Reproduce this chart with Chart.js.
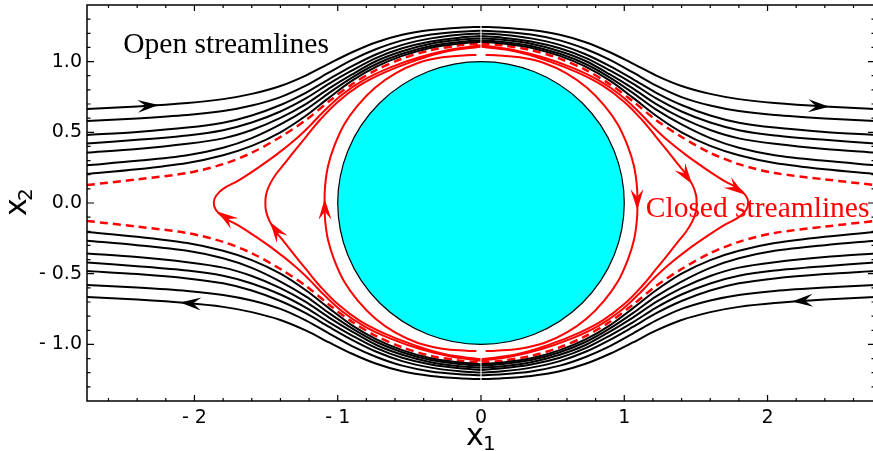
<!DOCTYPE html>
<html>
<head>
<meta charset="utf-8">
<script src="https://cdn.jsdelivr.net/npm/chart.js@4.4.0/dist/chart.umd.min.js"></script>
<style>
  html, body { margin: 0; padding: 0; background: #fff; overflow: hidden; }
  #wrap { width: 873px; height: 451px; overflow: hidden; }
</style>
</head>
<body>
<div id="wrap"><canvas id="flowChart" width="876" height="451"></canvas></div>
<script>
// open streamlines, upper-left half (x from the left edge to the x2 axis)
const xs = [-2.75, -2.4, -2.05, -1.8, -1.6, -1.4, -1.22, -1.06, -0.9, -0.73, -0.55, -0.35, -0.15, -0.004];
const open1 = [0.665, 0.6825, 0.707, 0.7345, 0.7715, 0.8275, 0.903, 0.986, 1.066, 1.137, 1.19, 1.223, 1.240, 1.245];
const open2 = [0.580, 0.598, 0.622, 0.650, 0.689, 0.749, 0.832, 0.923, 1.012, 1.089, 1.150, 1.191, 1.211, 1.218];
const open3 = [0.481, 0.5025, 0.533, 0.568, 0.619, 0.693, 0.781, 0.876, 0.9675, 1.052, 1.118, 1.164, 1.19, 1.198];
const open4 = [0.421, 0.447, 0.478, 0.515, 0.569, 0.647, 0.741, 0.844, 0.937, 1.026, 1.094, 1.142, 1.169, 1.180];
const open5 = [0.357, 0.3825, 0.419, 0.457, 0.516, 0.6015, 0.701, 0.810, 0.909, 1.004, 1.073, 1.1255, 1.154, 1.165];
const open6 = [0.267, 0.298, 0.338, 0.391, 0.459, 0.556, 0.662, 0.779, 0.887, 0.983, 1.055, 1.1105, 1.139, 1.1515];
const open7 = [0.205, 0.238, 0.283, 0.338, 0.404, 0.50, 0.619, 0.745, 0.865, 0.964, 1.040, 1.098, 1.128, 1.140];
const separatrix = [0.127, 0.167, 0.212, 0.2745, 0.355, 0.467, 0.588, 0.7195, 0.84, 0.9415, 1.0205, 1.081, 1.1146, 1.128];

// closed streamlines, upper-left quarter (from the x1 axis up to the top)
const loop1X = [-1.092, -1.088, -1.068, -1.025, -0.955, -0.86, -0.74, -0.60, -0.44, -0.27, -0.1, -0.032];
const loop1Y = [0, 0.12, 0.26, 0.40, 0.555, 0.69, 0.815, 0.915, 0.99, 1.03, 1.045, 1.047];
const loop2X = [-1.505, -1.50, -1.475, -1.43, -1.37, -1.30, -1.22, -1.126, -1.00, -0.85, -0.68, -0.48, -0.25, -0.004];
const loop2Y = [0, 0.06, 0.13, 0.205, 0.28, 0.37, 0.47, 0.585, 0.715, 0.83, 0.92, 1.0, 1.07, 1.105];
const loop3X = [-1.865, -1.85, -1.80, -1.70, -1.57, -1.43, -1.30, -1.20, -1.10, -0.97, -0.82, -0.64, -0.43, -0.21, -0.004];
const loop3Y = [0, 0.05, 0.10, 0.155, 0.24, 0.34, 0.445, 0.54, 0.645, 0.765, 0.868, 0.955, 1.03, 1.085, 1.115];

// arrow heads: [tipX, tipY, tailX, tailY]
const blackArrows = [
  [-2.25, 0.693, -2.40, 0.683],
  [2.43, 0.680, 2.28, 0.688],
  [-2.10, -0.703, -1.95, -0.714],
  [2.17, -0.697, 2.32, -0.687]
];
const redArrows = [
  [-1.091, 0.03, -1.089, -0.10],
  [1.091, -0.05, 1.089, 0.08],
  [-1.472, -0.135, -1.41, -0.225],
  [1.472, 0.135, 1.41, 0.225],
  [-1.84, -0.06, -1.72, -0.145],
  [1.84, 0.06, 1.72, 0.145]
];

const xTicks = [-2, -1, 0, 1, 2];
const yTicks = [-1, -0.5, 0, 0.5, 1];
const cylinderRadius = 1;

function pts(xArr, yArr) {
  return xArr.map((x, i) => ({ x: x, y: yArr[i] }));
}

// upper-left half -> four pieces (flow is symmetric about both axes)
function openPieces(yArr) {
  const ul = pts(xs, yArr);
  const ur = ul.map(p => ({ x: -p.x, y: p.y })).reverse();
  const ll = ul.map(p => ({ x: p.x, y: -p.y }));
  const lr = ur.map(p => ({ x: p.x, y: -p.y }));
  return [ul, ur, ll, lr];
}

// quarter -> left half and right half of a closed loop
function loopPieces(qx, qy) {
  const upper = pts(qx, qy);
  const lower = upper.map(p => ({ x: p.x, y: -p.y })).reverse();
  const left = lower.concat(upper.slice(1));
  const right = left.map(p => ({ x: -p.x, y: -p.y }));
  return [left, right];
}

const datasets = [];
[open1, open2, open3, open4, open5, open6, open7].forEach(line => {
  openPieces(line).forEach(d => {
    datasets.push({
      data: d, showLine: true, pointRadius: 0, borderColor: '#000',
      borderWidth: 2, tension: 0.3, borderCapStyle: 'butt'
    });
  });
});
openPieces(separatrix).forEach(d => {
  datasets.push({
    data: d, showLine: true, pointRadius: 0, borderColor: '#ff0000',
    borderWidth: 2.5, borderDash: [8, 5], tension: 0.3, borderCapStyle: 'butt'
  });
});
[[loop1X, loop1Y], [loop2X, loop2Y], [loop3X, loop3Y]].forEach(l => {
  loopPieces(l[0], l[1]).forEach(d => {
    datasets.push({
      data: d, showLine: true, pointRadius: 0, borderColor: '#ff0000',
      borderWidth: 2, tension: 0.4, borderCapStyle: 'butt'
    });
  });
});

function drawArrow(ctx, chart, a, color) {
  const sx = chart.scales.x, sy = chart.scales.y;
  const tx = sx.getPixelForValue(a[0]), ty = sy.getPixelForValue(a[1]);
  const bx = sx.getPixelForValue(a[2]), by = sy.getPixelForValue(a[3]);
  let dx = tx - bx, dy = ty - by;
  const len = Math.hypot(dx, dy);
  dx /= len; dy /= len;
  const L = 21, W = 6.5;
  ctx.save();
  ctx.fillStyle = color;
  ctx.beginPath();
  ctx.moveTo(tx, ty);
  ctx.lineTo(tx - L * dx - W * dy, ty - L * dy + W * dx);
  ctx.lineTo(tx - 0.62 * L * dx, ty - 0.62 * L * dy);
  ctx.lineTo(tx - L * dx + W * dy, ty - L * dy - W * dx);
  ctx.closePath();
  ctx.fill();
  ctx.restore();
}

const decor = {
  id: 'decor',
  beforeDatasetsDraw(chart) {
    const { ctx, scales: { x, y } } = chart;
    const cx = x.getPixelForValue(0), cy = y.getPixelForValue(0);
    const rx = x.getPixelForValue(cylinderRadius) - cx;
    const ry = cy - y.getPixelForValue(cylinderRadius);
    ctx.save();
    ctx.beginPath();
    ctx.ellipse(cx, cy, rx, ry, 0, 0, Math.PI * 2);
    ctx.fillStyle = '#00ffff';
    ctx.fill();
    ctx.lineWidth = 1.2;
    ctx.strokeStyle = '#000';
    ctx.stroke();
    ctx.restore();
  },
  afterDatasetsDraw(chart) {
    const { ctx, scales: { x, y } } = chart;
    blackArrows.forEach(a => drawArrow(ctx, chart, a, '#000'));
    redArrows.forEach(a => drawArrow(ctx, chart, a, '#ff0000'));
    ctx.save();
    ctx.font = '29.5px "Liberation Serif"';
    ctx.textAlign = 'left';
    ctx.textBaseline = 'alphabetic';
    ctx.fillStyle = '#000';
    ctx.fillText('Open streamlines', x.getPixelForValue(-2.497), y.getPixelForValue(1.062));
    ctx.fillStyle = '#ff0000';
    ctx.fillText('Closed streamlines', x.getPixelForValue(1.15), y.getPixelForValue(-0.099));
    ctx.restore();
  },
  afterDraw(chart) {
    const { ctx, chartArea: a, scales: { x, y } } = chart;
    ctx.save();
    ctx.strokeStyle = '#000';
    ctx.lineWidth = 1.5;
    ctx.strokeRect(a.left, a.top, a.right - a.left, a.bottom - a.top);
    ctx.lineWidth = 1.2;
    ctx.beginPath();
    for (let i = -13; i <= 13; i++) {
      const v = i / 5;
      const px = x.getPixelForValue(v);
      const len = (i % 5 === 0) ? 6 : 3;
      ctx.moveTo(px, a.bottom); ctx.lineTo(px, a.bottom - len);
      ctx.moveTo(px, a.top); ctx.lineTo(px, a.top + len);
    }
    for (let i = -13; i <= 13; i++) {
      const v = i / 10;
      const py = y.getPixelForValue(v);
      const len = (i % 5 === 0) ? 7 : 3.5;
      ctx.moveTo(a.left, py); ctx.lineTo(a.left + len, py);
      ctx.moveTo(a.right, py); ctx.lineTo(a.right - len, py);
    }
    ctx.stroke();

    // axis titles with subscripts
    ctx.fillStyle = '#000';
    ctx.textAlign = 'left';
    ctx.textBaseline = 'alphabetic';
    const mid = x.getPixelForValue(0);
    ctx.font = '30px "DejaVu Sans"';
    ctx.fillText('x', mid - 15, 445);
    ctx.font = '20px "DejaVu Sans"';
    ctx.fillText('1', mid + 2, 450);

    const midY = y.getPixelForValue(0);
    ctx.translate(25.5, midY + 13);
    ctx.rotate(-Math.PI / 2);
    ctx.font = '30px "DejaVu Sans"';
    ctx.fillText('x', 0, 0);
    ctx.font = '20px "DejaVu Sans"';
    ctx.fillText('2', 15, 6.5);
    ctx.restore();
  }
};

const fmt = (v, d) => (v < 0 ? '- ' : '') + Math.abs(v).toFixed(d);

new Chart(document.getElementById('flowChart'), {
  type: 'scatter',
  data: { datasets: datasets },
  options: {
    responsive: false,
    animation: false,
    devicePixelRatio: 1,
    layout: { padding: { top: 5, right: 1, left: 0, bottom: 0 } },
    plugins: { legend: { display: false }, tooltip: { enabled: false } },
    scales: {
      x: {
        type: 'linear', min: -2.75, max: 2.75,
        grid: { display: false, drawTicks: false },
        border: { display: false },
        afterBuildTicks: s => { s.ticks = xTicks.map(v => ({ value: v })); },
        afterFit: s => { s.height = 50; s.paddingLeft = 0; s.paddingRight = 0; },
        ticks: {
          padding: 6, color: '#000', font: { family: 'DejaVu Sans', size: 19 },
          maxRotation: 0, callback: v => fmt(v, 0)
        }
      },
      y: {
        type: 'linear', min: -1.4, max: 1.4,
        grid: { display: false, drawTicks: false },
        border: { display: false },
        afterBuildTicks: s => { s.ticks = yTicks.map(v => ({ value: v })); },
        afterFit: s => { s.width = 87; s.paddingTop = 0; s.paddingBottom = 0; },
        ticks: {
          padding: 5, color: '#000', font: { family: 'DejaVu Sans', size: 19 },
          callback: v => fmt(v, 1)
        }
      }
    }
  },
  plugins: [decor]
});
</script>
</body>
</html>
